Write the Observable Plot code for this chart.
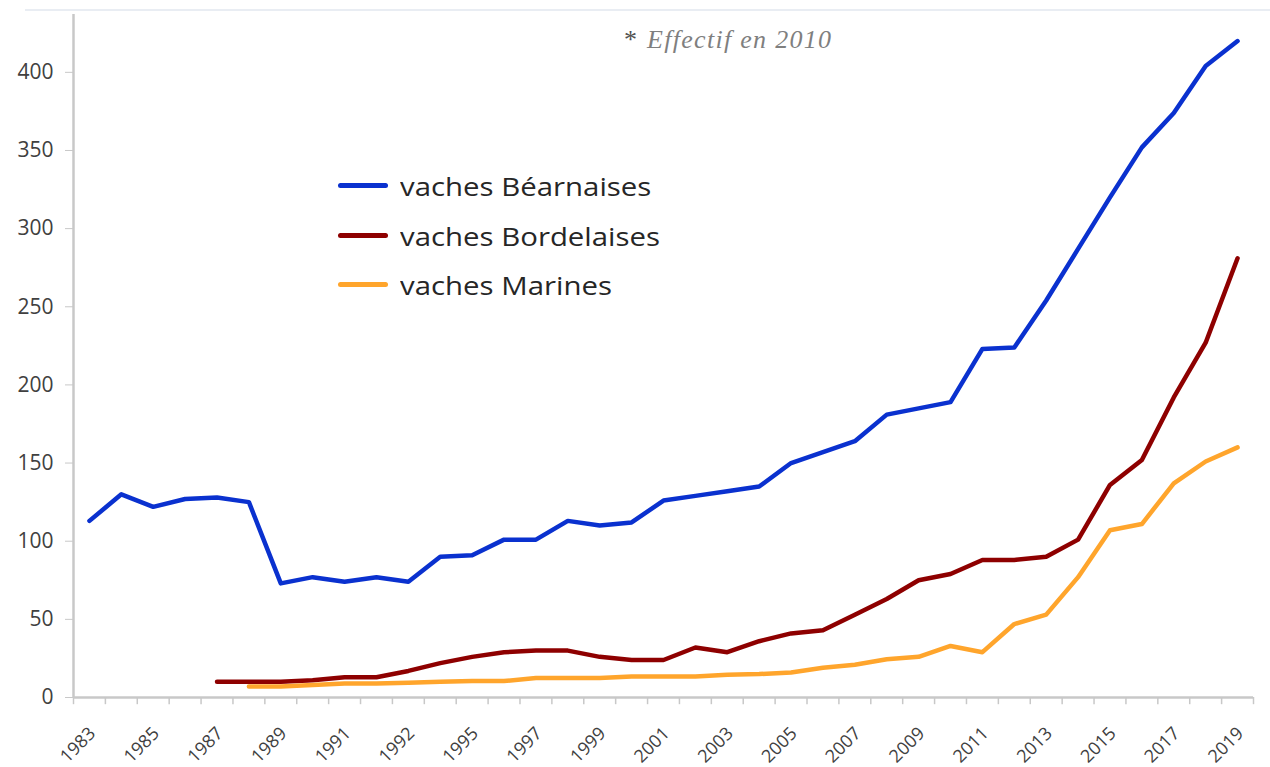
<!DOCTYPE html>
<html>
<head>
<meta charset="utf-8">
<script src="https://cdn.jsdelivr.net/npm/d3@7"></script>
<script src="https://cdn.jsdelivr.net/npm/@observablehq/plot@0.6"></script>
<style>
  body { margin: 0; background: #fff; }
  #wrap { position: relative; width: 1270px; height: 767px; overflow: hidden; font-family: "Open Sans", sans-serif; }
  #topline { position: absolute; left: 25px; right: 0; top: 9px; height: 2px; background: #e9edf3; }
  #legend { position: absolute; left: 338px; top: 166px; }
  .lg-row { position: absolute; left: 0; height: 40px; white-space: nowrap; }
  .lg-sw { position: absolute; left: 0; top: 17px; width: 50px; height: 5px; border-radius: 3px; }
  .lg-tx { position: absolute; left: 62px; top: 0; font-size: 26px; line-height: 40px; color: #262626; transform: scaleX(1.13); transform-origin: left center; }
  #note { position: absolute; left: 624px; top: 25px; white-space: nowrap; font-family: "Liberation Serif", "Times New Roman", serif; font-size: 26px; color: #7f7f7f; }
  #note .star { font-style: normal; color: #505050; margin-right: 10px; }
  #note .it { font-style: italic; letter-spacing: 1.3px; }
</style>
</head>
<body>
<div id="wrap">
  <div id="topline"></div>
  <div id="legend"></div>
  <div id="note"><span class="star">*</span><span class="it">Effectif en 2010</span></div>
</div>
<script>
// ---- data ----
const years = [1983,1984,1985,1986,1987,1988,1989,1990,1991,1992,1993,1994,1995,1996,1997,1998,1999,2000,2001,2002,2003,2004,2005,2006,2007,2008,2009,2010,2011,2012,2013,2014,2015,2016,2017,2018,2019];
const bearnaises  = [113,130,122,127,128,125,73,77,74,77,74,90,91,101,101,113,110,112,126,129,132,135,150,157,164,181,185,189,223,224,254,287,320,352,374,404,420];
const bordelaises = [null,null,null,null,10,10,10,11,13,13,17,22,26,29,30,30,26,24,24,32,29,36,41,43,53,63,75,79,88,88,90,101,136,152,192,227,281];
const marines     = [null,null,null,null,null,7,7,8,9,9,9.5,10,10.5,10.5,12.5,12.5,12.5,13.5,13.5,13.5,14.5,15,16,19,21,24.5,26,33,29,47,53,77,107,111,137,151,160];
const seriesNames = ["vaches Béarnaises", "vaches Bordelaises", "vaches Marines"];
const seriesColors = ["#0a31cf", "#8e0000", "#ffa52c"];
const tickYears  = [1983,1985,1987,1989,1991,1993,1995,1997,1999,2001,2003,2005,2007,2009,2011,2013,2015,2017,2019];
const tickLabels = ["1983","1985","1987","1989","1991","1992","1995","1997","1999","2001","2003","2005","2007","2009","2011","2013","2015","2017","2019"];
const yTicks = [0,50,100,150,200,250,300,350,400];

// ---- build table ----
const seriesValues = [bearnaises, bordelaises, marines];
const rows = [];
seriesValues.forEach((vals, s) => {
  vals.forEach((v, i) => { if (v != null) rows.push({year: years[i], value: v, series: seriesNames[s]}); });
});
const boundaries = [years[0] - 0.5, ...years.map(y => y + 0.5)];
const labelOf = new Map(tickYears.map((y, i) => [y, tickLabels[i]]));
const axisGrey = "#c8c8c8";
const textGrey = "#404040";

const chart = Plot.plot({
  width: 1270,
  height: 767,
  marginLeft: 73,
  marginRight: 17,
  marginTop: 14,
  marginBottom: 70,
  style: { fontFamily: "'Open Sans', sans-serif", background: "transparent", overflow: "visible" },
  x: { domain: [boundaries[0], boundaries[boundaries.length - 1]], axis: null },
  y: { domain: [0, 437], axis: null },
  color: { domain: seriesNames, range: seriesColors },
  marks: [
    // axis lines
    Plot.ruleX([boundaries[0]], { y1: 0, y2: 437, stroke: axisGrey, strokeWidth: 2.5 }),
    Plot.ruleY([0], { stroke: axisGrey, strokeWidth: 2.5 }),
    // x tick marks at category boundaries
    Plot.ruleX(boundaries, { y1: 0, y2: -4.6, stroke: axisGrey, strokeWidth: 1.5 }),
    // y axis
    Plot.axisY({ ticks: yTicks, label: null, tickSize: 8, tickPadding: 12, fontSize: 21, stroke: axisGrey, fill: textGrey, tickFormat: d => String(d) }),
    // x labels
    Plot.axisX({ ticks: tickYears, label: null, tickSize: 0, tickRotate: -45, tickPadding: 33, fontSize: 18, fill: textGrey, dx: 3, tickFormat: y => labelOf.get(y) }),
    // lines
    Plot.line(rows, { x: "year", y: "value", z: "series", stroke: "series", strokeWidth: 4.5, strokeLinejoin: "round", strokeLinecap: "round" })
  ]
});
document.getElementById("wrap").prepend(chart);

// legend
const lg = document.getElementById("legend");
seriesNames.forEach((name, i) => {
  const row = document.createElement("div");
  row.className = "lg-row";
  row.style.top = (i * 49.5) + "px";
  const sw = document.createElement("div");
  sw.className = "lg-sw";
  sw.style.background = seriesColors[i];
  const tx = document.createElement("div");
  tx.className = "lg-tx";
  tx.textContent = name;
  row.appendChild(sw); row.appendChild(tx);
  lg.appendChild(row);
});
</script>
</body>
</html>
